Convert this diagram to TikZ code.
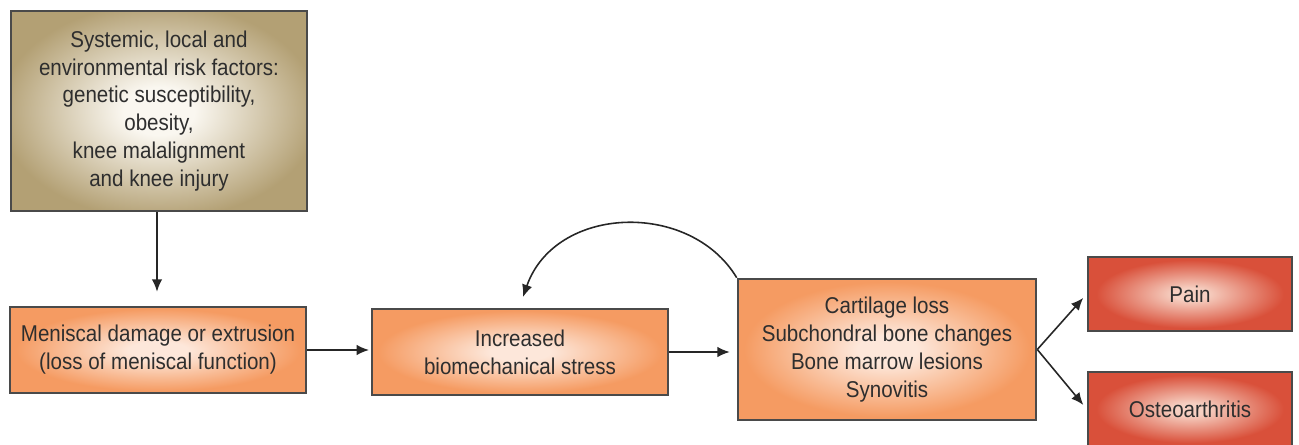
\documentclass[tikz,border=0pt]{standalone}
\usepackage{fontspec}
\setmainfont[FakeStretch=0.9]{Liberation Sans}
\usepackage{tikz}
\usetikzlibrary{arrows.meta}

\definecolor{edgegray}{HTML}{4A4A4A}
\definecolor{textgray}{HTML}{2E2E2E}
\definecolor{tanout}{HTML}{B3A074}
\definecolor{tanin}{HTML}{FAF7F0}
\definecolor{orangeout}{HTML}{F59B62}
\definecolor{orangein}{HTML}{FDE7DA}
\definecolor{redout}{HTML}{D9503A}
\definecolor{redin}{HTML}{F6D0C2}

\pgfdeclareradialshading{tanglow}{\pgfpoint{0bp}{0bp}}{color(0bp)=(tanin); color(6bp)=(tanin); color(27bp)=(tanout); color(50bp)=(tanout)}
\pgfdeclareradialshading{orangeglow}{\pgfpoint{0bp}{0bp}}{color(0bp)=(orangein); color(5bp)=(orangein); color(24bp)=(orangeout); color(50bp)=(orangeout)}
\pgfdeclareradialshading{redglow}{\pgfpoint{0bp}{0bp}}{color(0bp)=(redin); color(4bp)=(redin); color(23bp)=(redout); color(50bp)=(redout)}

\tikzset{
  box/.style={draw=edgegray, line width=1.5pt, rectangle, align=center,
    text=textgray, font=\fontsize{13}{15.9}\selectfont, inner sep=0pt},
  riskbox/.style={box, shading=tanglow},
  flowbox/.style={box, shading=orangeglow},
  endbox/.style={box, shading=redglow},
  link/.style={draw=black!85, line width=0.9pt, -{Latex[length=7pt,width=6pt]}}
}

\begin{document}
\begin{tikzpicture}[x=0.02cm, y=-0.02cm]
    \useasboundingbox (0,0) rectangle (1299,444);

    % Boxes
    \node[riskbox, minimum width=5.92cm, minimum height=4cm] (risk) at (159,111)
        {Systemic, local and\\environmental risk factors:\\genetic susceptibility,\\obesity,\\knee malalignment\\and knee injury};
    \node[flowbox, minimum width=5.92cm, minimum height=1.72cm] (menisc) at (158,350)
        {Meniscal damage or extrusion\\(loss of meniscal function)};
    \node[flowbox, minimum width=5.92cm, minimum height=1.72cm] (stress) at (520,352)
        {Increased\\biomechanical stress};
    \node[flowbox, minimum width=5.96cm, minimum height=2.82cm] (joint) at (887,349.5)
        {Cartilage loss\\Subchondral bone changes\\Bone marrow lesions\\Synovitis};
    \node[endbox, minimum width=4.08cm, minimum height=1.48cm] (pain) at (1190,294) {Pain};
    \node[endbox, minimum width=4.08cm, minimum height=1.48cm] (oa) at (1190,409) {Osteoarthritis};

    % Arrows
    \coordinate (back) at (523,297);
    \coordinate (split) at (joint.east);
    \draw[link, shorten >=8pt] (risk.south -| 157,0) -- (menisc.north -| 157,0);
    \draw[link, shorten >=1pt] (menisc.east) -- (stress.west |- menisc.east);
    \draw[link, shorten >=4pt] (stress.east) -- (joint.west |- stress.east);
    \draw[link] (joint.north west) .. controls (690,200) and (555,205) .. (back);
    \draw[link, shorten >=3pt] (split) -- (pain.west);
    \draw[link, shorten >=3pt] (split) -- (oa.west);
\end{tikzpicture}
\end{document}
